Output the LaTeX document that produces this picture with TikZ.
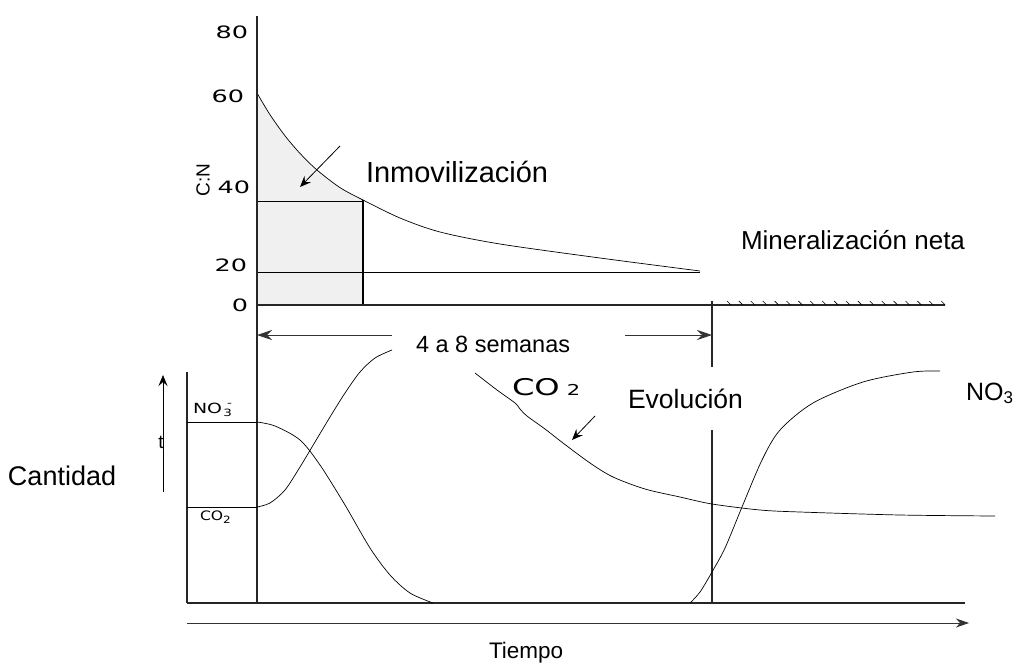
\documentclass[tikz,border=0pt]{standalone}
\usepackage{fontspec}
\setmainfont{Liberation Sans}
\newfontfamily\widefont{DejaVu Sans}
\usepackage{graphicx}
\usetikzlibrary{arrows.meta}
\newcommand\fsz[1]{\fontsize{#1}{#1}\selectfont}
\tikzset{
  axisline/.style={line width=1.1pt, draw=black!85},
  curveline/.style={line width=0.7pt, draw=black},
  txt/.style={inner sep=0pt, outer sep=0pt, anchor=base west},
  ticklbl/.style={inner sep=0pt, outer sep=0pt, anchor=east, font=\widefont\fsz{17}},
  bigarrow/.style={-{Stealth[length=15pt,width=10pt,inset=5pt]}, line width=0.8pt, draw=black!80},
  smallarrow/.style={-{Stealth[length=11pt,width=9pt,inset=4pt]}, line width=0.8pt},
}
\begin{document}
\begin{tikzpicture}[x=1pt,y=-1pt]
\useasboundingbox (0,0) rectangle (1022,664);

% shaded immobilisation area
\fill[black!6] (257,305) -- plot[smooth] coordinates {(257,93) (270,114.7) (285,135.8) (300,153.4) (317,170) (340,187.6) (363,200)} -- (363,305) -- cycle;

% top chart
\draw[curveline] plot[smooth] coordinates {(257,93) (270,114.7) (285,135.8) (300,153.4) (317,170) (340,187.6) (363,200) (400,218) (440,232) (500,244) (600,258) (700,271)};
\draw[line width=0.7pt] (257,201) -- (363,201);
\draw[line width=0.7pt] (257,272) -- (700,272);
\draw[line width=1.2pt] (363,200) -- (363,305);
\draw[axisline] (257,305) -- (945,305);
\foreach \i in {0,...,18} \draw[line width=0.6pt] (727+\i*11.9,301) -- ++(4,4);
\draw[axisline, line width=1.3pt] (257,16) -- (257,603);

% tick labels
\node[ticklbl] (t80) at (248,32) {\scalebox{1.5}[1]{80}};
\node[ticklbl] (t60) at (244,96) {\scalebox{1.5}[1]{60}};
\node[ticklbl] (t40) at (250,187) {\scalebox{1.5}[1]{40}};
\node[ticklbl] (t20) at (247,265) {\scalebox{1.5}[1]{20}};
\node[ticklbl] (t0) at (248,305) {\scalebox{1.5}[1]{0}};
\node[inner sep=0pt, rotate=90, font=\fsz{19}] (cn) at (203,180) {C:N};

% texts
\node[txt, font=\fsz{29}] (inm) at (366,182) {Inmovilización};
\node[txt, font=\fsz{26}] (min) at (741,249) {Mineralización neta};
\node[txt, font=\fsz{23.5}] (sem) at (416,352) {4 a 8 semanas};
\node[txt, font=\fsz{26.5}] (evo) at (628,408) {Evolución};
\node[txt, font=\fsz{22.5}] (tie) at (489,658) {Tiempo};
\node[txt, font=\fsz{27}] (can) at (8,485) {Cantidad};
\node[txt, font=\fsz{25}] (no3r) at (966,400) {NO\raisebox{-3pt}{\fsz{17}3}};
\node[txt, font=\widefont\fsz{23}] (co2big) at (512,395) {\scalebox{1.4}[1]{CO\hspace{5pt}{\fsz{15}2}}};
\node[txt, font=\widefont\fsz{14}] (no3s) at (193,413) {\scalebox{1.35}[1]{NO\hspace{1pt}\raisebox{-3pt}{\fsz{10}3}\llap{\raisebox{7pt}{\fsz{10}-}}}};
\node[txt, font=\widefont\fsz{13}] (co2s) at (200,520) {\scalebox{1.2}[1]{CO\raisebox{-3pt}{\fsz{10}2}}};
\node[inner sep=0pt, anchor=base, font=\fsz{19}] (tlab) at (161,448) {t};

% vertical line at end of period
\draw[axisline] (712,301) -- (712,367);
\draw[axisline] (712,430) -- (712,603);

% 4 a 8 semanas arrows
\coordinate (lA) at (392,335); \coordinate (lB) at (257,335);
\coordinate (rA) at (625,335); \coordinate (rB) at (712,335);
\draw[bigarrow] (lA) -- (lB);
\draw[bigarrow] (rA) -- (rB);

% pointer arrows
\coordinate (iA) at (340,146); \coordinate (iB) at (300,187);
\draw[smallarrow] (iA) -- (iB);
\coordinate (cA) at (595,416); \coordinate (cB) at (572,440);
\draw[smallarrow] (cA) -- (cB);
\coordinate (tA) at (163,492); \coordinate (tB) at (163,375);
\draw[smallarrow] (tA) -- (tB);

% bottom chart axes
\draw[axisline] (187,372) -- (187,603);
\draw[axisline] (187,603) -- (965,603);
\coordinate (timeA) at (187,623); \coordinate (timeB) at (969,623);
\draw[bigarrow, -{Stealth[length=13pt,width=9pt,inset=4pt]}] (timeA) -- (timeB);

% initial levels
\draw[line width=0.7pt] (187,422) -- (257,422);
\draw[line width=0.7pt] (187,507) -- (257,507);

% curves
\draw[curveline] plot[smooth] coordinates {(257,422) (275,426) (300,440) (320,465) (345,505) (370,548) (390,575) (410,593) (433,603)};
\draw[curveline] plot[smooth] coordinates {(257,507) (270,503) (285,490) (300,467) (315,442) (330,417) (345,393) (360,372) (375,358) (392,350)};
\draw[curveline] plot[smooth] coordinates {(475,373) (497,390) (515,403) (520,409) (527,416) (545,429) (563,443) (590,463) (613,477) (645,489) (680,497) (712,504) (760,510) (800,512) (900,515) (995,516)};
\draw[curveline] plot[smooth] coordinates {(690,603) (700,592) (712,572) (725,548) (742,507) (762,460) (780,430) (813,403) (863,382) (913,372) (940,371)};
\end{tikzpicture}
\end{document}
